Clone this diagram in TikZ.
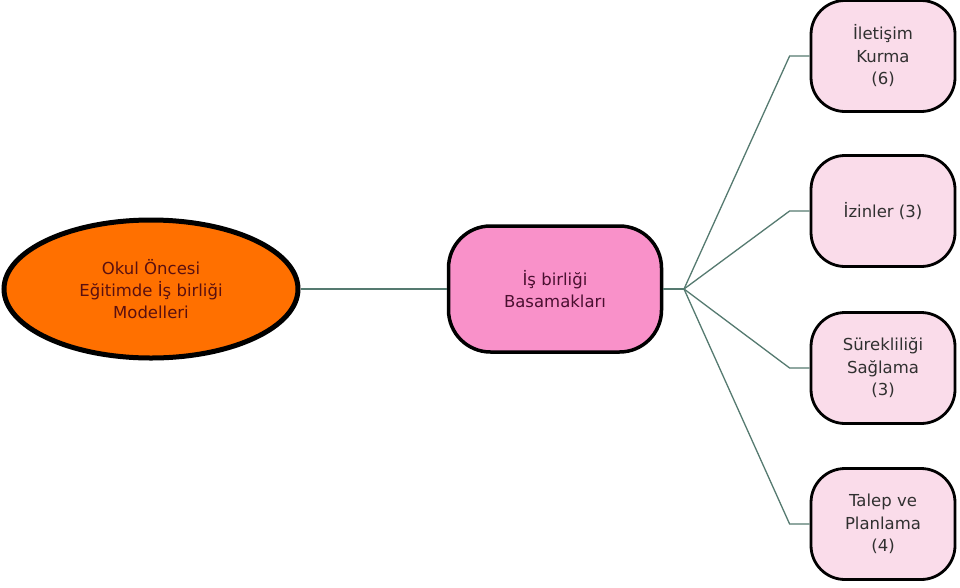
\documentclass[tikz,border=0pt]{standalone}
\usepackage{fontspec}
\setmainfont{DejaVu Sans}
\usetikzlibrary{shapes.geometric}
\definecolor{orangefill}{HTML}{FF7000}
\definecolor{pinkfill}{HTML}{F991C9}
\definecolor{lightpink}{HTML}{FADCEA}
\definecolor{linkcol}{HTML}{557A70}
\definecolor{txtred}{HTML}{5A1010}
\definecolor{txtpurple}{HTML}{4A1030}
\definecolor{txtgray}{HTML}{303030}
\tikzset{
  rootnode/.style={ellipse, draw=black, line width=5pt, fill=orangefill,
    minimum width=294pt, minimum height=138pt, inner sep=0pt, align=center,
    text=txtred, font=\fontsize{16.5}{22}\selectfont},
  midnode/.style={rectangle, rounded corners=42pt, draw=black, line width=3.5pt, fill=pinkfill,
    minimum width=213pt, minimum height=126pt, align=center,
    text=txtpurple, font=\fontsize{16.5}{22}\selectfont},
  leafnode/.style={rectangle, rounded corners=34pt, draw=black, line width=2.8pt, fill=lightpink,
    minimum width=144pt, minimum height=111pt, align=center,
    text=txtgray, font=\fontsize{16.5}{22.5}\selectfont},
  link/.style={draw=linkcol, line width=1.3pt}
}
\begin{document}
\begin{tikzpicture}[x=1pt,y=-1pt]
\useasboundingbox (0,0) rectangle (960,587);
\fill[white] (0,0) rectangle (960,587);
\coordinate (j) at (684,289);
\node[rootnode] (root) at (151,289) {Okul Öncesi\\Eğitimde İş birliği\\Modelleri};
\node[midnode] (mid) at (555,289) {İş birliği\\Basamakları};
\node[leafnode] (l1) at (883,56) {İletişim\\Kurma\\(6)};
\node[leafnode] (l2) at (883,211) {İzinler (3)};
\node[leafnode] (l3) at (883,368) {Sürekliliği\\Sağlama\\(3)};
\node[leafnode] (l4) at (883,524) {Talep ve\\Planlama\\(4)};
\draw[link] (root.east) -- (mid.west);
\draw[link] (mid.east) -- (j);
\foreach \n in {l1,l2,l3,l4}{
  \draw[link] (j) -- ([xshift=-20pt]\n.west) -- (\n.west);
}
\end{tikzpicture}
\end{document}
